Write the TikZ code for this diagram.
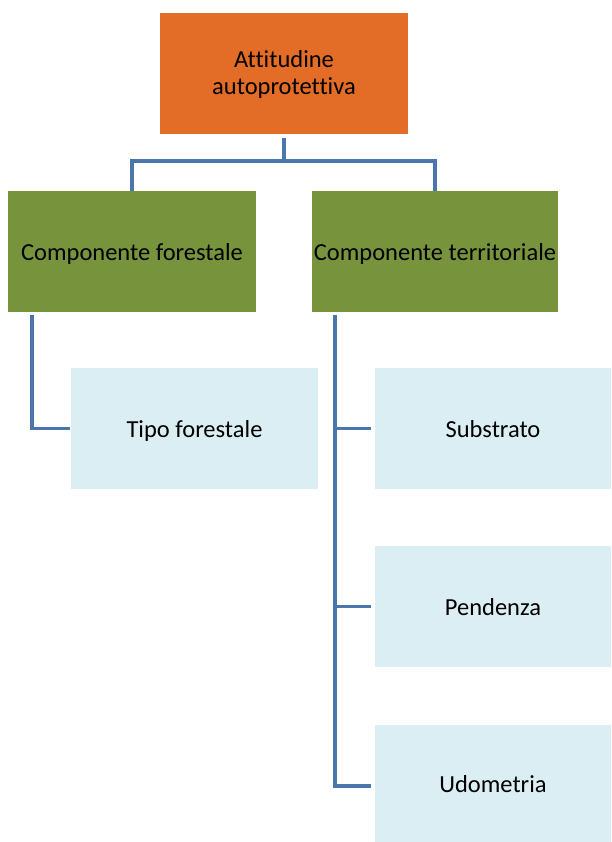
\documentclass[tikz,border=0pt]{standalone}
\usepackage{fontspec}
\setmainfont{Carlito}[Ligatures=NoCommon]
\definecolor{orangebox}{RGB}{227,108,38}
\definecolor{greenbox}{RGB}{119,147,60}
\definecolor{bluebox}{RGB}{219,238,244}
\definecolor{linkblue}{RGB}{74,118,172}
\begin{document}
\begin{tikzpicture}[x=1pt,y=-1pt,
  boxbase/.style={rectangle, inner sep=0pt, align=center, font=\fontsize{24.5}{27}\selectfont, text=black},
  topbox/.style={boxbase, fill=orangebox, minimum width=248pt, minimum height=121pt},
  midbox/.style={boxbase, fill=greenbox, minimum height=121pt, text depth=0pt},
  leafbox/.style={boxbase, fill=bluebox, minimum height=121pt, text depth=0pt},
  conn/.style={draw=linkblue, line width=3.5pt}]
\useasboundingbox (0,0) rectangle (611,842);
\node[topbox] (top) at (284,74) {Attitudine\\autoprotettiva};
\node[midbox, minimum width=248pt] (gl) at (132,251.5) {Componente forestale};
\node[midbox, minimum width=246pt] (gr) at (435,251.5) {Componente territoriale};
\node[leafbox, minimum width=247pt] (tipo) at (194.5,428.5) {Tipo forestale};
\node[leafbox, minimum width=236pt] (sub) at (493,428.5) {Substrato};
\node[leafbox, minimum width=236pt] (pen) at (493,606.5) {Pendenza};
\node[leafbox, minimum width=236pt, minimum height=117pt] (udo) at (493,783.5) {Udometria};
\coordinate (j) at (284,161);
\coordinate (lt) at (32,315);
\coordinate (rt) at (335,315);
\draw[conn, shorten <=3pt] (top.south) -- (j);
\draw[conn] (j) -| (gl.north);
\draw[conn] (j) -| (gr.north);
\draw[conn, shorten >=1pt] (lt) |- (tipo.west);
\draw[conn, shorten >=4pt] (rt) |- ([yshift=-2.5pt]udo.west);
\draw[conn, shorten >=4pt] (rt |- sub.west) -- (sub.west);
\draw[conn, shorten >=4pt] (rt |- pen.west) -- (pen.west);
\end{tikzpicture}
\end{document}
